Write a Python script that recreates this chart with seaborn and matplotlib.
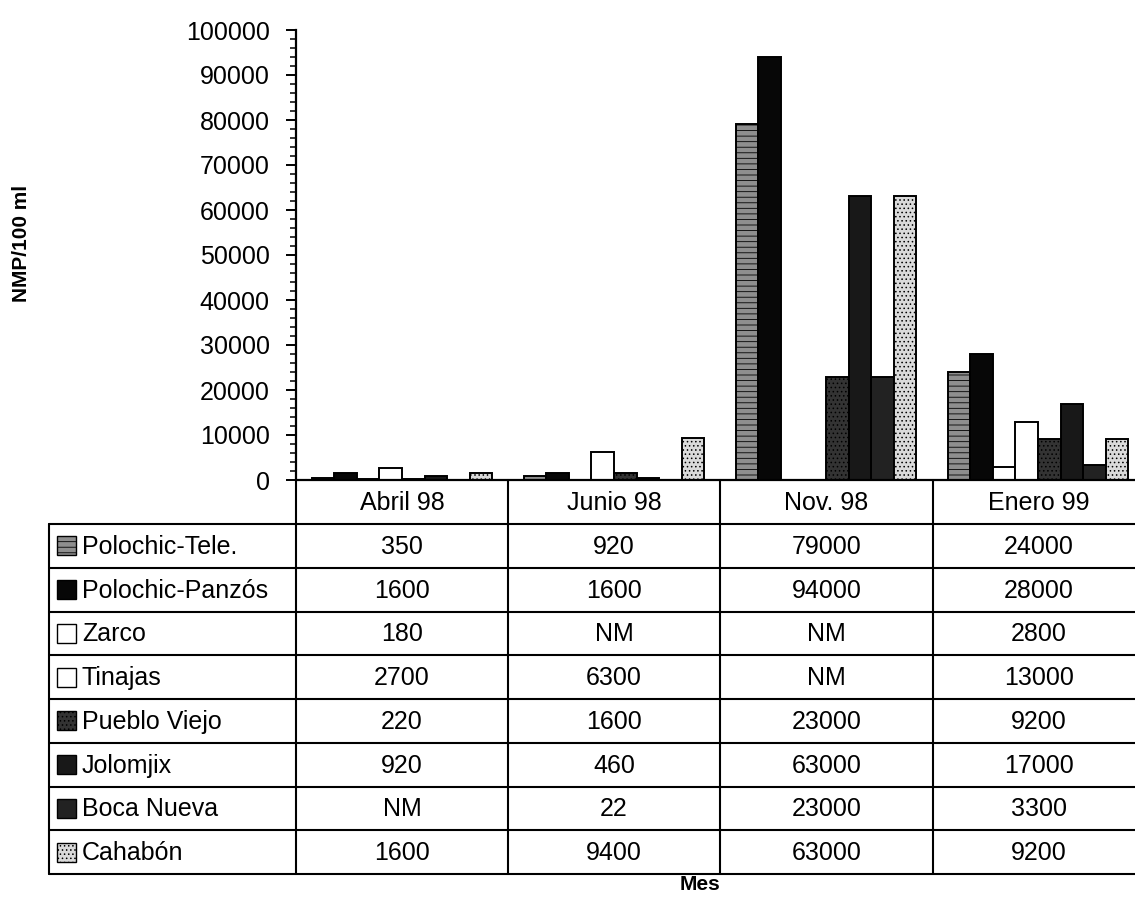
import pandas as pd
import matplotlib.pyplot as plt
import seaborn as sns
from matplotlib.patches import Rectangle
from matplotlib.ticker import MultipleLocator

# Meses y sitios de muestreo
meses = ["Abril 98", "Junio 98", "Nov. 98", "Enero 99"]
sitios = ["Polochic-Tele.", "Polochic-Panzós", "Zarco", "Tinajas",
          "Pueblo Viejo", "Jolomjix", "Boca Nueva", "Cahabón"]

# NMP/100 ml (None = NM, no medido)
polochic_tele = [350, 920, 79000, 24000]
polochic_panzos = [1600, 1600, 94000, 28000]
zarco = [180, None, None, 2800]
tinajas = [2700, 6300, None, 13000]
pueblo_viejo = [220, 1600, 23000, 9200]
jolomjix = [920, 460, 63000, 17000]
boca_nueva = [None, 22, 23000, 3300]
cahabon = [1600, 9400, 63000, 9200]

series = [polochic_tele, polochic_panzos, zarco, tinajas,
          pueblo_viejo, jolomjix, boca_nueva, cahabon]

# Relleno de cada serie (color, trama)
colores = ["#8e8e8e", "#070707", "#ffffff", "#ffffff",
           "#333333", "#181818", "#222222", "#dadada"]
tramas = ["---", "", "", "", "....", "", "", "...."]

# Long format table for seaborn
rows = []
for sitio, vals in zip(sitios, series):
    for mes, v in zip(meses, vals):
        rows.append({"Mes": mes, "Sitio": sitio, "NMP": v})
df = pd.DataFrame(rows)
df["NMP"] = pd.to_numeric(df["NMP"])

sns.set_style("white")
plt.rcParams["font.family"] = ["Liberation Sans", "DejaVu Sans"]
plt.rcParams["hatch.linewidth"] = 0.6
plt.rcParams["text.color"] = "black"
plt.rcParams["ytick.color"] = "black"
plt.rcParams["ytick.labelcolor"] = "black"

W, H = 1135, 910
fig = plt.figure(figsize=(W / 100, H / 100), dpi=100)

# Table layer in pixel coordinates
tab = fig.add_axes([0, 0, 1, 1])
tab.set_xlim(0, W)
tab.set_ylim(H, 0)
tab.axis("off")
tab.set_facecolor("none")

# Bar chart
ax = fig.add_axes([296 / W, (H - 480) / H, 848 / W, 450 / H])
sns.barplot(
    data=df, x="Mes", y="NMP", hue="Sitio",
    order=meses, hue_order=sitios,
    palette=dict(zip(sitios, colores)),
    width=0.85, edgecolor="black", linewidth=1.4,
    errorbar=None, legend=False, ax=ax
)

for cont, trama in zip(ax.containers, tramas):
    for bar in cont:
        bar.set_hatch(trama)

ax.set_xlim(-0.5, 3.5)
ax.set_ylim(0, 100000)
ax.set_yticks(range(0, 100001, 10000))
ax.yaxis.set_minor_locator(MultipleLocator(2000))
ax.tick_params(axis="y", which="major", direction="out", length=7,
               width=1.4, labelsize=18, pad=12, left=True)
ax.tick_params(axis="y", which="minor", direction="out", length=4,
               width=1.1, left=True)
ax.set_xticks([])
ax.set_xlabel("")
ax.set_ylabel("")
for s in ["top", "right"]:
    ax.spines[s].set_visible(False)
for s in ["left", "bottom"]:
    ax.spines[s].set_linewidth(1.6)
    ax.spines[s].set_color("black")
ax.set_facecolor("none")

fig.text(22 / W, 1 - 243 / H, "NMP/100 ml", rotation=90, fontsize=15,
         fontweight="bold", ha="center", va="center")
fig.text(700 / W, 1 - 884 / H, "Mes", fontsize=15, fontweight="bold",
         ha="center", va="center")

# Data table under the chart
col_x = [296, 508, 720, 933, 1145]
left_x = 49
head_top, head_bot = 480, 524
row_h = (874 - head_bot) / len(sitios)
lw = 1.5

for cx in col_x[:4]:
    tab.plot([cx, cx], [head_top, head_bot + row_h * len(sitios)],
             color="black", lw=lw)
tab.plot([left_x, left_x], [head_bot, head_bot + row_h * len(sitios)],
         color="black", lw=lw)
for i in range(len(sitios) + 1):
    y = head_bot + i * row_h
    tab.plot([left_x, W], [y, y], color="black", lw=lw)

for j, mes in enumerate(meses):
    xc = (col_x[j] + col_x[j + 1]) / 2
    tab.text(xc, (head_top + head_bot) / 2 + 1, mes, fontsize=18,
             ha="center", va="center")

for i, (sitio, vals) in enumerate(zip(sitios, series)):
    yc = head_bot + (i + 0.5) * row_h
    tab.add_patch(Rectangle((57, yc - 9.5), 19, 19, facecolor=colores[i],
                            edgecolor="black", lw=1.0, hatch=tramas[i]))
    tab.text(82, yc + 1, sitio, fontsize=18, ha="left", va="center")
    for j, v in enumerate(vals):
        xc = (col_x[j] + col_x[j + 1]) / 2
        txt = "NM" if v is None else str(v)
        tab.text(xc, yc + 1, txt, fontsize=18, ha="center", va="center")

plt.savefig("out.png", dpi=100)
